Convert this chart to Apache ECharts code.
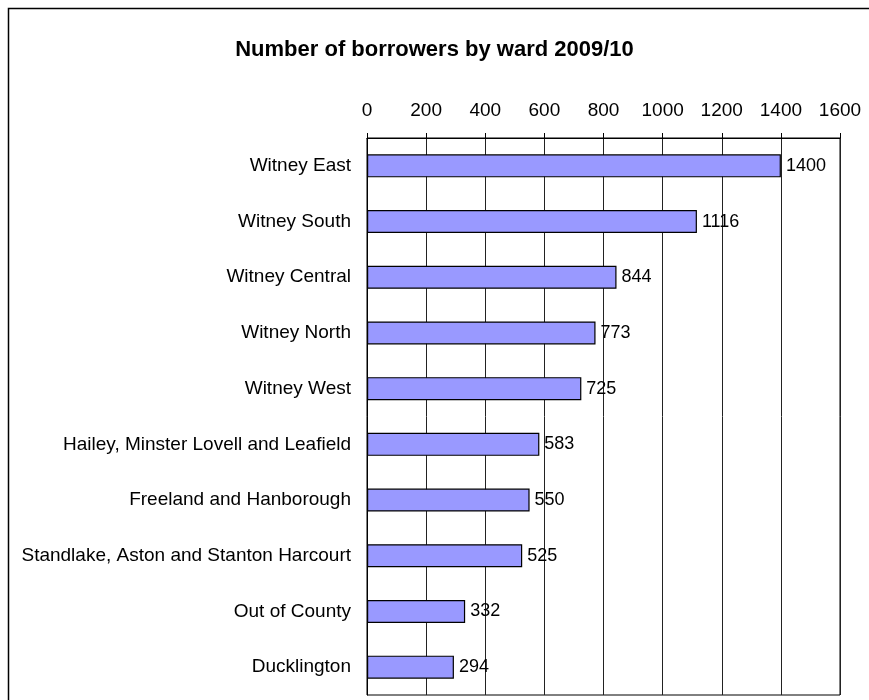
<!DOCTYPE html>
<html>
<head>
<meta charset="utf-8">
<script src="https://cdn.jsdelivr.net/npm/echarts@6/dist/echarts.min.js"></script>
<style>
html,body{margin:0;padding:0;background:#fff;}
#c{width:869px;height:700px;}
</style>
</head>
<body>
<div id="c"></div>
<script>
const categories = ["Witney East","Witney South","Witney Central","Witney North","Witney West","Hailey, Minster Lovell and Leafield","Freeland and Hanborough","Standlake, Aston and Stanton Harcourt","Out of County","Ducklington"];
const borrowers = [1400,1116,844,773,725,583,550,525,332,294];
const titleText = "Number of borrowers by ward 2009/10";

const chart = echarts.init(document.getElementById('c'), null, {renderer:'canvas'});
const font = 'Liberation Sans, Arial, sans-serif';
chart.setOption({
  animation:false,
  backgroundColor:'#fff',
  textStyle:{fontFamily:font},
  graphic:[{
    type:'rect', shape:{x:8.5,y:8.5,width:900,height:800},
    style:{fill:'none',stroke:'#000',lineWidth:1.5}, z:-1
  }],
  title:{
    text:titleText, left:'center', top:34,
    textStyle:{fontFamily:font,fontSize:22,fontWeight:'bold',color:'#000'}
  },
  grid:{left:367,right:29,top:138,bottom:5,show:true,borderColor:'#000',borderWidth:1,containLabel:false},
  xAxis:{
    type:'value', position:'top', min:0, max:1600, interval:200,
    axisLine:{show:true,lineStyle:{color:'#000',width:1}},
    axisTick:{show:true,length:5,inside:false,lineStyle:{color:'#000'}},
    axisLabel:{fontSize:19,color:'#000',margin:18,fontFamily:font,formatter:v=>String(v)},
    splitLine:{show:true,lineStyle:{color:'#222',width:1}}
  },
  yAxis:{
    type:'category', data:categories, inverse:true,
    axisLine:{show:true,lineStyle:{color:'#000'}},
    axisTick:{show:false},
    axisLabel:{fontSize:19,color:'#000',margin:16,fontFamily:font},
    splitLine:{show:false}
  },
  series:[{
    type:'bar', data:borrowers, barWidth:23,
    itemStyle:{color:'#9999FF',borderColor:'#000',borderWidth:1.2},
    label:{show:true,position:'right',distance:5,fontSize:18,color:'#000',fontFamily:font}
  }]
});
</script>
</body>
</html>
